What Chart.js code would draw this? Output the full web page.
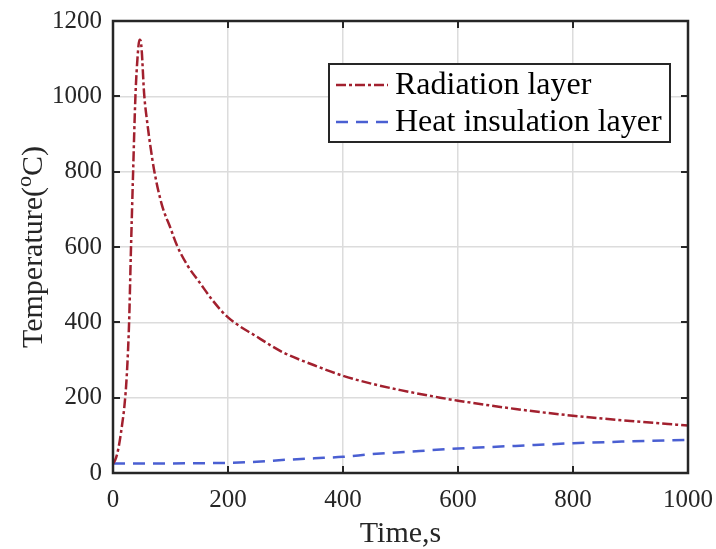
<!DOCTYPE html>
<html>
<head>
<meta charset="utf-8">
<script src="https://cdn.jsdelivr.net/npm/chart.js@4.4.0/dist/chart.umd.min.js"></script>
<style>
  html, body { margin: 0; padding: 0; background: #fff; }
  #wrap { width: 716px; height: 549px; }
</style>
</head>
<body>
<div id="wrap"><canvas id="c" width="716" height="549"></canvas></div>
<script>
// series (time in s, temperature in °C)
const radTime = [0, 4, 8, 12, 16, 20, 24, 28, 31, 35, 39, 43, 46, 48, 50, 54, 60, 65, 72, 85, 100, 111, 130, 151, 175, 200, 250, 296, 350, 400, 450, 500, 569, 600, 700, 800, 900, 1000];
const radTemp = [25, 35, 55, 88, 130, 180, 260, 400, 580, 800, 1000, 1110, 1150, 1148, 1120, 1010, 925, 868, 800, 712, 650, 605, 550, 505, 455, 413, 362, 320, 286, 258, 237, 220, 200, 192, 170, 152, 138, 126];
const insTime = [0, 100, 200, 250, 300, 350, 400, 450, 500, 600, 700, 800, 900, 1000];
const insTemp = [25, 25.5, 27, 30, 35, 39, 43, 50, 55, 65, 72, 79, 84, 88];

const xTicks = [0, 200, 400, 600, 800, 1000];
const yTicks = [0, 200, 400, 600, 800, 1000, 1200];
const seriesNames = ['Radiation layer', 'Heat insulation layer'];

const SERIF = "'Liberation Serif', 'Times New Roman', serif";
const INK = '#262626';

const toPoints = (xs, ys) => xs.map((x, i) => ({ x, y: ys[i] }));

// frame, inner ticks, axis titles and legend box
const decorPlugin = {
  id: 'decor',
  afterDatasetsDraw(chart) {
    const { ctx, chartArea: a, scales } = chart;
    const xs = scales.x, ys = scales.y;
    ctx.save();
    // inner ticks
    ctx.strokeStyle = INK;
    ctx.lineWidth = 2;
    const tl = 7;
    xTicks.forEach(v => {
      const px = Math.round(xs.getPixelForValue(v));
      ctx.beginPath();
      ctx.moveTo(px, a.bottom); ctx.lineTo(px, a.bottom - tl);
      ctx.moveTo(px, a.top); ctx.lineTo(px, a.top + tl);
      ctx.stroke();
    });
    yTicks.forEach(v => {
      const py = Math.round(ys.getPixelForValue(v));
      ctx.beginPath();
      ctx.moveTo(a.left, py); ctx.lineTo(a.left + tl, py);
      ctx.moveTo(a.right, py); ctx.lineTo(a.right - tl, py);
      ctx.stroke();
    });
    // box
    ctx.lineWidth = 2.5;
    ctx.strokeRect(a.left, a.top, a.right - a.left, a.bottom - a.top);

    // x title
    ctx.fillStyle = INK;
    ctx.font = '30px ' + SERIF;
    ctx.textAlign = 'center';
    ctx.textBaseline = 'alphabetic';
    ctx.fillText('Time,s', (a.left + a.right) / 2, 542);

    // y title with superscript o
    ctx.save();
    ctx.translate(42, (a.top + a.bottom) / 2);
    ctx.rotate(-Math.PI / 2);
    const p1 = 'Temperature(', sup = 'o', p2 = 'C)';
    ctx.font = '30px ' + SERIF;
    const w1 = ctx.measureText(p1).width;
    const w3 = ctx.measureText(p2).width;
    ctx.font = '22px ' + SERIF;
    const w2 = ctx.measureText(sup).width;
    let x0 = -(w1 + w2 + w3) / 2;
    ctx.textAlign = 'left';
    ctx.font = '30px ' + SERIF;
    ctx.fillText(p1, x0, 0);
    ctx.font = '22px ' + SERIF;
    ctx.fillText(sup, x0 + w1, -11);
    ctx.font = '30px ' + SERIF;
    ctx.fillText(p2, x0 + w1 + w2, 0);
    ctx.restore();

    // legend
    const lx = 329, ly = 64, lw = 341, lh = 78;
    ctx.fillStyle = '#fff';
    ctx.fillRect(lx, ly, lw, lh);
    ctx.strokeStyle = INK;
    ctx.lineWidth = 2;
    ctx.strokeRect(lx, ly, lw, lh);
    const rows = [85, 122];
    chart.data.datasets.forEach((ds, i) => {
      ctx.strokeStyle = ds.borderColor;
      ctx.lineWidth = ds.borderWidth;
      ctx.setLineDash(ds.borderDash);
      ctx.beginPath();
      ctx.moveTo(336, rows[i]); ctx.lineTo(388, rows[i]);
      ctx.stroke();
      ctx.setLineDash([]);
      ctx.fillStyle = '#000';
      ctx.font = '32px ' + SERIF;
      ctx.textAlign = 'left';
      ctx.textBaseline = 'middle';
      ctx.fillText(ds.label, 395, rows[i] + 1);
    });
    ctx.restore();
  }
};

new Chart(document.getElementById('c'), {
  type: 'line',
  data: {
    datasets: [
      {
        label: seriesNames[0],
        data: toPoints(radTime, radTemp),
        borderColor: '#a2202e',
        borderWidth: 2.5,
        borderDash: [10, 3, 3, 3],
        pointRadius: 0,
        cubicInterpolationMode: 'monotone',
        fill: false
      },
      {
        label: seriesNames[1],
        data: toPoints(insTime, insTemp),
        borderColor: '#4a5fd2',
        borderWidth: 2.5,
        borderDash: [12, 8],
        pointRadius: 0,
        cubicInterpolationMode: 'monotone',
        fill: false
      }
    ]
  },
  options: {
    responsive: false,
    animation: false,
    layout: { padding: { left: 0, top: 21, right: 28, bottom: 0 } },
    plugins: {
      legend: { display: false },
      tooltip: { enabled: false },
      title: { display: false }
    },
    scales: {
      x: {
        type: 'linear',
        min: 0,
        max: 1000,
        afterFit: s => { s.height = 76; s.paddingLeft = 0; s.paddingRight = 0; },
        afterBuildTicks: s => { s.ticks = xTicks.map(v => ({ value: v })); },
        grid: { color: '#dcdcdc', lineWidth: 1.5, drawTicks: false },
        border: { display: false },
        ticks: {
          color: INK,
          padding: 12,
          maxRotation: 0,
          callback: v => String(v),
          font: { family: SERIF, size: 25 }
        }
      },
      y: {
        type: 'linear',
        min: 0,
        max: 1200,
        afterFit: s => { s.width = 113; s.paddingTop = 0; s.paddingBottom = 0; },
        afterBuildTicks: s => { s.ticks = yTicks.map(v => ({ value: v })); },
        grid: { color: '#dcdcdc', lineWidth: 1.5, drawTicks: false },
        border: { display: false },
        ticks: {
          color: INK,
          padding: 11,
          callback: v => String(v),
          font: { family: SERIF, size: 25 }
        }
      }
    }
  },
  plugins: [decorPlugin]
});
</script>
</body>
</html>
